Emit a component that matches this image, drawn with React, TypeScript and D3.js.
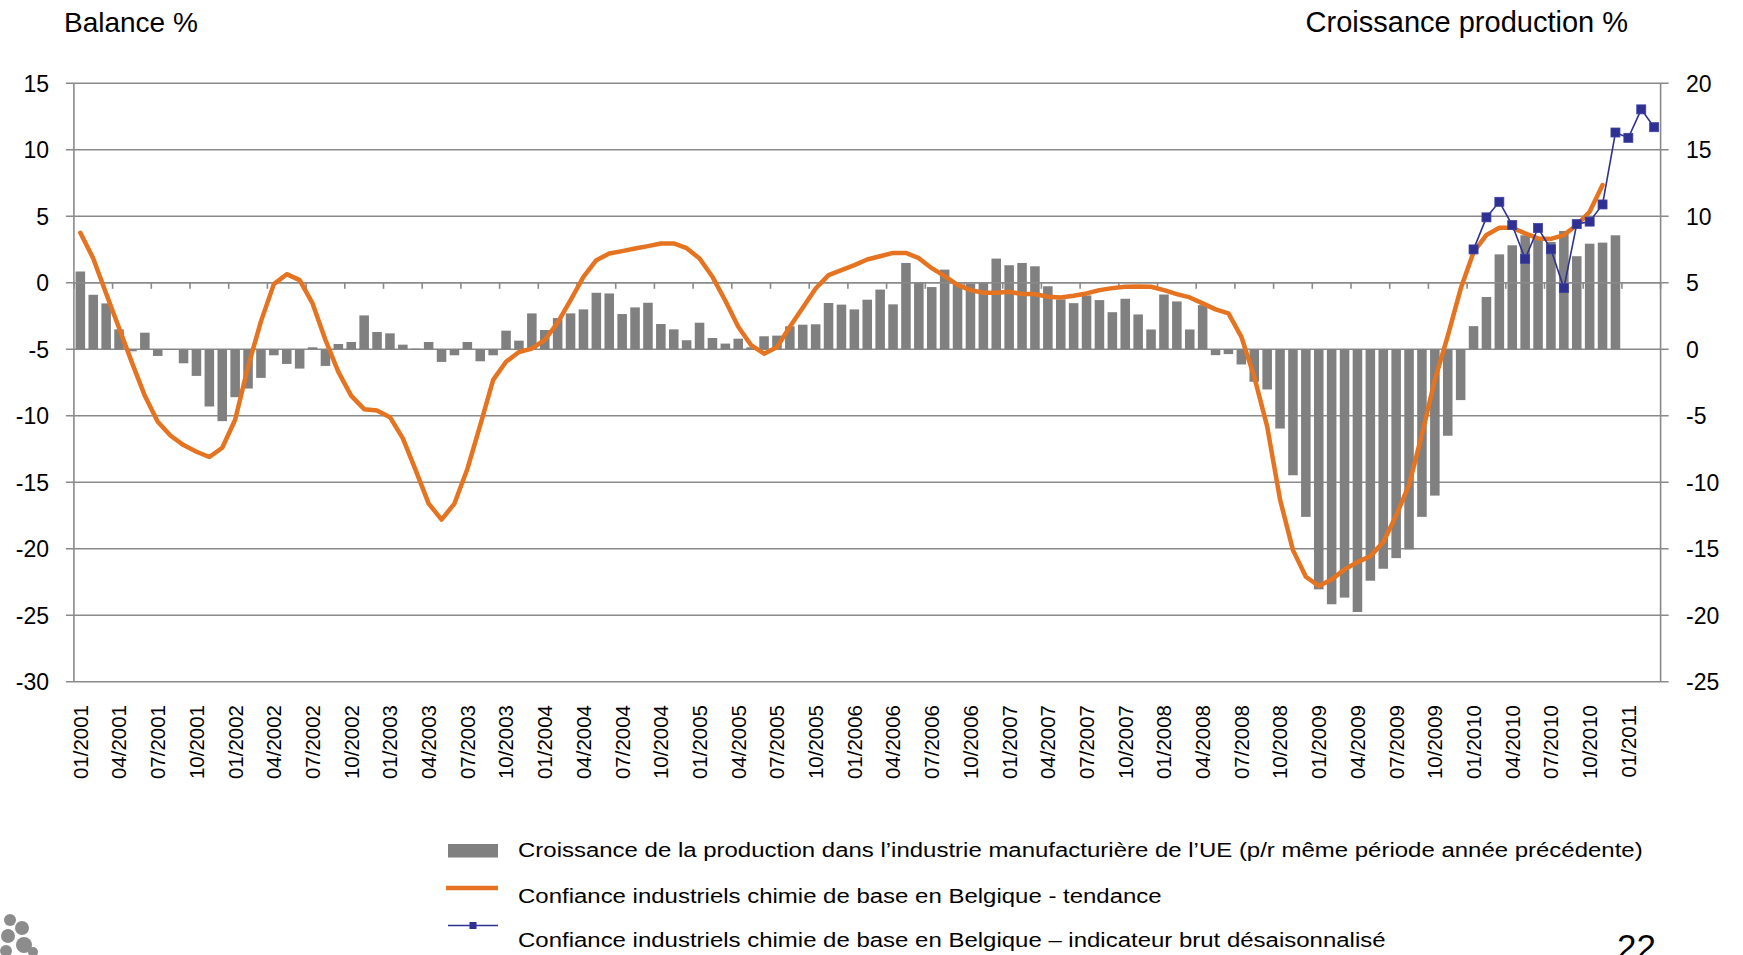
import React from "react";
import * as d3 from "d3";

// ---------- DATA ----------
const startYear = 2001;
const monthCount = 123; // 01/2001 .. 03/2011
const categories: string[] = d3.range(monthCount).map((i) => {
  const y = startYear + Math.floor(i / 12);
  const m = (i % 12) + 1;
  return `${String(m).padStart(2, "0")}/${y}`;
});

// EU manufacturing production growth (%), right axis, 01/2001 .. 12/2010
const productionGrowth: number[] = [
  5.85, 4.1, 3.45, 1.5, -0.15, 1.25, -0.5, -0.05, -1.05, -2.0, -4.3, -5.4,
  -3.6, -2.95, -2.15, -0.45, -1.1, -1.45, 0.15, -1.25, 0.4, 0.55, 2.55, 1.3,
  1.2, 0.35, 0.05, 0.55, -0.95, -0.45, 0.55, -0.9, -0.45, 1.4, 0.65, 2.7,
  1.45, 2.35, 2.7, 3.0, 4.25, 4.2, 2.65, 3.15, 3.5, 1.9, 1.5, 0.68,
  2.0, 0.85, 0.43, 0.8, 0.15, 0.98, 1.03, 1.73, 1.85, 1.88, 3.48, 3.36,
  3.0, 3.73, 4.49, 3.38, 6.49, 5.0, 4.68, 5.99, 4.95, 4.95, 5.05, 6.82,
  6.32, 6.49, 6.24, 4.74, 3.75, 3.47, 4.05, 3.7, 2.79, 3.8, 2.62, 1.49,
  4.12, 3.6, 1.49, 3.32, -0.44, -0.36, -1.14, -2.44, -3.02, -5.96, -9.47, -12.6,
  -18.05, -19.17, -18.67, -19.75, -17.4, -16.5, -15.7, -15.04, -12.6, -11.0, -6.5, -3.82,
  1.74, 3.93, 7.14, 7.82, 8.57, 8.45, 8.07, 8.9, 7.0, 7.94, 8.02, 8.57,
];

// Confidence chemical industry Belgium - trend (balance %), left axis, 01/2001 .. 11/2010
const confidenceTrend: number[] = [
  3.76, 1.83, -0.8, -3.4, -6.0, -8.5, -10.45, -11.5, -12.2, -12.7, -13.1, -12.4,
  -10.3, -6.3, -2.9, -0.1, 0.65, 0.2, -1.55, -4.3, -6.7, -8.5, -9.5, -9.6,
  -10.1, -11.7, -14.1, -16.6, -17.8, -16.6, -14.0, -10.7, -7.3, -5.94, -5.2, -4.95,
  -4.3, -3.0, -1.3, 0.45, 1.7, 2.2, 2.38, 2.58, 2.76, 2.96, 2.96, 2.6,
  1.83, 0.45, -1.35, -3.3, -4.69, -5.33, -4.85, -3.3, -1.88, -0.43, 0.58, 0.95,
  1.33, 1.75, 2.0, 2.25, 2.25, 1.85, 1.1, 0.5, -0.15, -0.55, -0.75, -0.75,
  -0.68, -0.85, -0.85, -1.05, -1.1, -0.98, -0.8, -0.55, -0.4, -0.3, -0.28, -0.3,
  -0.55, -0.85, -1.1, -1.55, -2.0, -2.3, -4.06, -7.07, -10.8, -16.3, -20.1, -22.1,
  -22.8, -22.3, -21.55, -21.0, -20.55, -19.5, -17.5, -15.2, -11.4, -7.3, -4.0, -0.45,
  2.3, 3.6, 4.14, 4.14, 3.71, 3.34, 3.3, 3.59, 4.34, 5.34, 7.35,
];

// Confidence chemical industry Belgium - raw seasonally adjusted (balance %), 01/2010 .. 03/2011
const rawStartIndex = 108;
const confidenceRaw: number[] = [
  2.51, 4.92, 6.09, 4.34, 1.8, 4.12, 2.52, -0.4, 4.41, 4.6, 5.89, 11.3, 10.9, 13.04, 11.7,
];

const leftTicks: number[] = [15, 10, 5, 0, -5, -10, -15, -20, -25, -30];
const rightTicks: number[] = [20, 15, 10, 5, 0, -5, -10, -15, -20, -25];

const legendLabels: string[] = [
  "Croissance de la production dans l’industrie manufacturière de l’UE (p/r même période année précédente)",
  "Confiance industriels chimie de base en Belgique - tendance",
  "Confiance industriels chimie de base en Belgique – indicateur brut désaisonnalisé",
];

// ---------- STYLE ----------
const W = 1743;
const H = 955;
const FONT = "'Liberation Sans', Arial, Helvetica, sans-serif";
const GRID = "#8a8a8a";
const BAR = "#808080";
const ORANGE = "#E5731F";
const BLUE = "#2E3192";

const plotLeft = 73.9;
const plotRight = 1660.6;
const plotTop = 83.3;
const plotBottom = 681.8;

export default function App() {
  const x = d3
    .scaleBand<number>()
    .domain(d3.range(categories.length))
    .range([plotLeft, plotRight])
    .paddingInner(0.26)
    .paddingOuter(0.13);
  const step = x.step();
  const yL = d3.scaleLinear().domain([-30, 15]).range([plotBottom, plotTop]);
  const yR = d3.scaleLinear().domain([-25, 20]).range([plotBottom, plotTop]);
  const cx = (i: number) => (x(i) as number) + x.bandwidth() / 2;

  const trendPath = d3
    .line<number>()
    .x((_, i) => cx(i))
    .y((d) => yL(d))(confidenceTrend) as string;
  const rawPath = d3
    .line<number>()
    .x((_, i) => cx(rawStartIndex + i))
    .y((d) => yL(d))(confidenceRaw) as string;

  const axisY = yL(0);
  const tickIdx = d3.range(0, categories.length + 1, 3);
  const labelIdx = d3.range(0, categories.length, 3);
  const ms = 9;
  const legendFont = 21;
  const legendStretch = 1.142;

  return (
    <svg
      width={W}
      height={H}
      viewBox={`0 0 ${W} ${H}`}
      style={{ position: "fixed", left: 0, top: 0, background: "#fff", fontFamily: FONT }}
    >
      <rect x={0} y={0} width={W} height={H} fill="#fff" />

      {/* titles */}
      <text x={64} y={31.5} fontSize={28} fill="#000">Balance %</text>
      <text x={1628} y={31.5} fontSize={29} fill="#000" textAnchor="end">
        Croissance production %
      </text>

      {/* gridlines */}
      {leftTicks.map((t) => (
        <line key={"g" + t} x1={plotLeft - 8} x2={plotRight + 8} y1={yL(t)} y2={yL(t)} stroke={GRID} strokeWidth={1.6} />
      ))}

      {/* bars (right axis) */}
      {productionGrowth.map((v, i) => (
        <rect
          key={"b" + i}
          x={x(i) as number}
          width={x.bandwidth()}
          y={Math.min(yR(0), yR(v))}
          height={Math.abs(yR(v) - yR(0))}
          fill={BAR}
        />
      ))}

      {/* category axis at 0 with ticks */}
      <line x1={plotLeft} x2={plotRight} y1={axisY} y2={axisY} stroke={GRID} strokeWidth={1.6} />
      {tickIdx.map((k) => (
        <line
          key={"t" + k}
          x1={plotLeft + k * step}
          x2={plotLeft + k * step}
          y1={axisY}
          y2={axisY + 6}
          stroke={GRID}
          strokeWidth={1.6}
        />
      ))}

      {/* value axes */}
      <line x1={plotLeft} x2={plotLeft} y1={plotTop} y2={plotBottom} stroke={GRID} strokeWidth={1.6} />
      <line x1={plotRight} x2={plotRight} y1={plotTop} y2={plotBottom} stroke={GRID} strokeWidth={1.6} />

      {/* left tick labels */}
      {leftTicks.map((t) => (
        <text key={"lt" + t} x={49} y={yL(t) + 8.3} fontSize={23} textAnchor="end" fill="#000">
          {t}
        </text>
      ))}
      {/* right tick labels */}
      {rightTicks.map((t) => (
        <text key={"rt" + t} x={1686} y={yR(t) + 8.3} fontSize={23} textAnchor="start" fill="#000">
          {t}
        </text>
      ))}

      {/* x labels */}
      {labelIdx.map((i) => (
        <text
          key={"xl" + i}
          transform={`translate(${cx(i)},705) rotate(-90)`}
          textAnchor="end"
          dy="0.36em"
          fontSize={20.5}
          fill="#000"
        >
          {categories[i]}
        </text>
      ))}

      {/* trend line */}
      <path d={trendPath} fill="none" stroke={ORANGE} strokeWidth={4.5} strokeLinejoin="round" strokeLinecap="round" />

      {/* raw line with markers */}
      <path d={rawPath} fill="none" stroke={BLUE} strokeWidth={1.6} />
      {confidenceRaw.map((v, i) => (
        <rect
          key={"m" + i}
          x={cx(rawStartIndex + i) - ms / 2}
          y={yL(v) - ms / 2}
          width={ms}
          height={ms}
          fill={BLUE}
          stroke="#3d41a3"
          strokeWidth={0.8}
        />
      ))}

      {/* legend */}
      <rect x={448} y={844} width={50} height={13.5} fill={BAR} />
      <line x1={446} x2={498} y1={888} y2={888} stroke={ORANGE} strokeWidth={4.5} />
      <line x1={448} x2={498} y1={925.5} y2={925.5} stroke={BLUE} strokeWidth={1.6} />
      <rect x={473 - 3.5} y={925.5 - 3.5} width={7} height={7} fill={BLUE} />
      {[857, 902.5, 946.5].map((by, k) => (
        <text
          key={"lg" + k}
          transform={`translate(518,${by}) scale(${legendStretch},1)`}
          fontSize={legendFont}
          fill="#000"
        >
          {legendLabels[k]}
        </text>
      ))}

      {/* page number (cut by the slide edge, as in the reference) */}
      <text x={1617} y={959} fontSize={35} fill="#000">22</text>

      {/* logo fragment */}
      <g fill="#8c8c8c">
        <circle cx={10} cy={920} r={6} />
        <circle cx={22} cy={928} r={7} />
        <circle cx={8} cy={936} r={7} />
        <circle cx={24} cy={945} r={8} />
        <circle cx={6} cy={951} r={6} />
        <circle cx={33} cy={952} r={5} />
      </g>
    </svg>
  );
}
